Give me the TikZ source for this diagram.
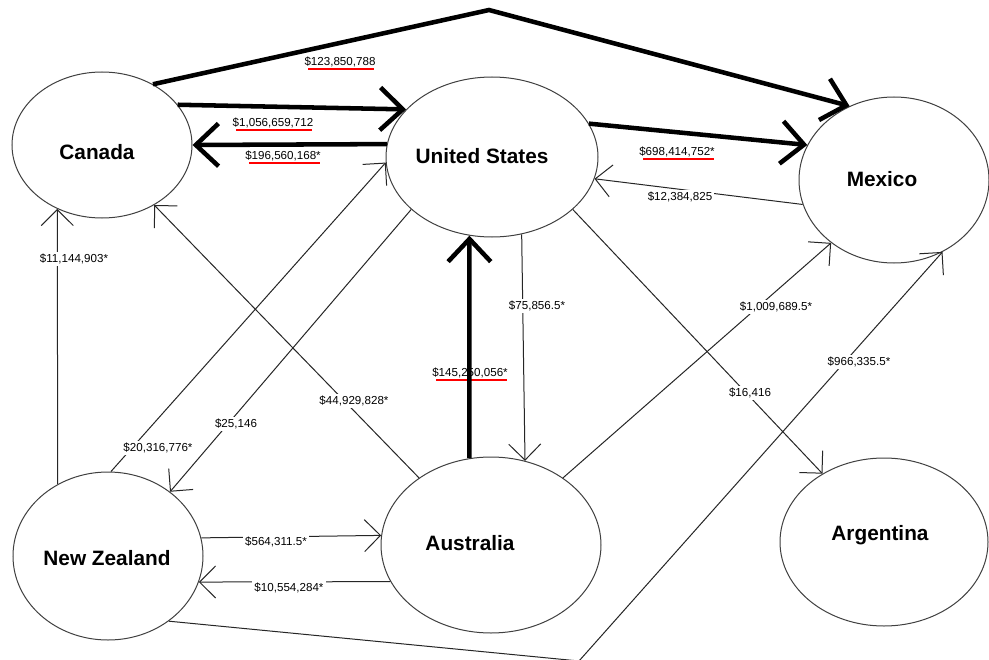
\documentclass[tikz,border=0pt]{standalone}
\usepackage{fontspec}
\setmainfont{Liberation Sans}
\usetikzlibrary{shapes.geometric,arrows.meta}
\begin{document}
\begin{tikzpicture}[x=0.75pt,y=-0.75pt,
  country/.style={ellipse, draw=black!75, line width=0.75pt, fill=white, inner sep=0pt},
  cname/.style={font=\fontsize{15.6}{18}\selectfont\bfseries, inner sep=0pt, anchor=base},
  flow/.style={draw=black!85, line width=0.75pt, -{Straight Barb[length=12pt,width=24pt]}},
  bigflow/.style={draw=black, line width=3.4pt, -{Straight Barb[length=17pt,width=32pt]}},
  amt/.style={font=\fontsize{8.7}{10}\selectfont, fill=white, inner sep=1.5pt, text height=6.2pt, text depth=0.6pt},
  amtbig/.style={font=\fontsize{8.7}{10}\selectfont, inner sep=1pt, text height=6.2pt, text depth=0.6pt},
  redline/.style={draw=red, line width=1.5pt}]
\useasboundingbox (0,0) rectangle (989,660);
\fill[white] (0,0) rectangle (989,660);
\clip (0,0) rectangle (989,660);

% countries
\node[country, minimum width=135pt, minimum height=109.5pt] (can) at (102,145) {};
\node[country, minimum width=159pt, minimum height=120pt] (us) at (492,157) {};
\node[country, minimum width=142.5pt, minimum height=124.5pt] (mex) at (894,180) {};
\node[country, minimum width=165pt, minimum height=132pt] (aus) at (491,545) {};
\node[country, minimum width=142.5pt, minimum height=126pt] (nz) at (108,556) {};
\node[country, minimum width=156pt, minimum height=126pt] (arg) at (884,542) {};

\node[cname] (canT) at (97,159.5) {Canada};
\node[cname] (usT) at (482,163.5) {United States};
\node[cname] (mexT) at (882,186.5) {Mexico};
\node[cname] (ausT) at (470,550.5) {Australia};
\node[cname] (nzT) at (107,565.5) {New Zealand};
\node[cname] (argT) at (880,540.5) {Argentina};

\coordinate (peak) at (489,10);
\coordinate (corner) at (579,661);

% thin flows
\draw[flow] (mex.195.4) -- (us.-12.6);
\draw[flow] (us.-69.6) -- (aus.68.8);
\draw[flow] (us.-33.7) -- (arg.132.8);
\draw[flow] (aus.43.8) -- (mex.225.9);
\draw[flow] (nz.-47.7) -- (corner) -- (mex.304.2);
\draw[flow] (aus.137.5) -- (can.-49.6);
\draw[flow] (nz.125.7) -- (can.235.3);
\draw[flow] (nz.88) -- (us.183.2);
\draw[flow] (us.213.8) -- (nz.46.8);
\draw[flow] (nz.11.9) -- (aus.175.8);
\draw[flow] (aus.200.7) -- (nz.-16.4);

% thick flows
\node[amtbig] (l5) at (470,373) {\$145,250,056*};
\draw[redline] ([xshift=4pt,yshift=-2.3pt]l5.base west) -- ([xshift=-2pt,yshift=-2.3pt]l5.base east);
\draw[bigflow] (can.50.2) -- (peak) -- (mex.121.4);
\draw[bigflow] (can.28.7) -- (us.151.6);
\draw[bigflow] (us.173.5) -- (can.0.6);
\draw[bigflow] (us.19.9) -- (mex.158.6);
\draw[bigflow] (aus.104.2) -- (us.-106);

% amounts
\node[amtbig] (l1) at (340,62) {\$123,850,788};
\node[amtbig] (l2) at (273,123) {\$1,056,659,712};
\node[amtbig] (l3) at (283,156) {\$196,560,168*};
\node[amtbig] (l4) at (677,152) {\$698,414,752*};
\foreach \l in {l1,l2,l3,l4}
  \draw[redline] ([xshift=4pt,yshift=-2.3pt]\l.base west) -- ([xshift=-2pt,yshift=-2.3pt]\l.base east);

\node[amt] (l6) at (680,197) {\$12,384,825};
\node[amt] (l7) at (74,259) {\$11,144,903*};
\node[amt] (l8) at (537,306) {\$75,856.5*};
\node[amt] (l9) at (776,307) {\$1,009,689.5*};
\node[amt] (l10) at (859,362) {\$966,335.5*};
\node[amt] (l11) at (354,401) {\$44,929,828*};
\node[amt] (l12) at (750,393) {\$16,416};
\node[amt] (l13) at (236,424) {\$25,146};
\node[amt] (l14) at (158,448) {\$20,316,776*};
\node[amt] (l15) at (276,542) {\$564,311.5*};
\node[amt] (l16) at (289,588) {\$10,554,284*};
\end{tikzpicture}
\end{document}
